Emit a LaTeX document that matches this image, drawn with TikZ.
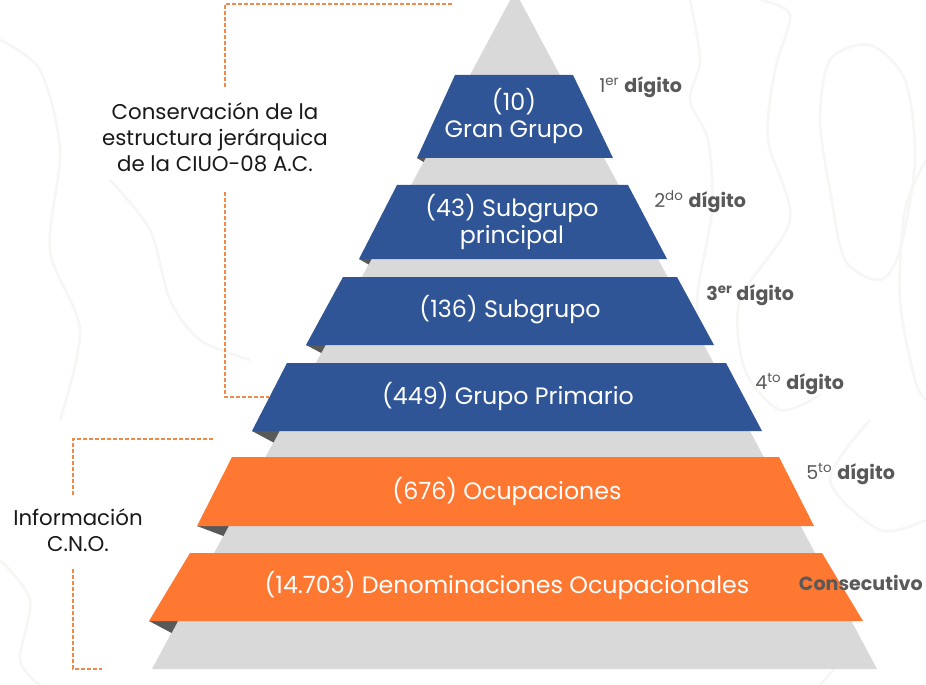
\documentclass[tikz,border=0pt]{standalone}
\usepackage{fontspec}
\setmainfont{Poppins}
\usepackage{tikz}

\definecolor{azul}{HTML}{2F5597}
\definecolor{naranja}{HTML}{FF7832}
\definecolor{gris}{HTML}{D9D9D9}
\definecolor{pliegue}{HTML}{595959}
\definecolor{guia}{HTML}{F08A4B}
\definecolor{rotulo}{HTML}{595959}
\definecolor{fondo}{HTML}{F6F6F4}

\begin{document}
\begin{tikzpicture}[x=0.75pt,y=0.75pt,yscale=-1,xscale=1,
  bandaAzul/.style={fill=azul},
  bandaNaranja/.style={fill=naranja},
  doblez/.style={fill=pliegue},
  curvaFondo/.style={draw=fondo,line width=2pt},
  textoBanda/.style={text=white,align=center,inner sep=0.75pt,font=\fontsize{17.8}{20}\selectfont},
  textoLado/.style={text=black!90,align=center,inner sep=0.75pt,font=\fontsize{16}{19.5}\selectfont},
  digito/.style={anchor=west,text=rotulo,inner sep=0.75pt,font=\fontsize{14.3}{16}\selectfont},
  guiaLinea/.style={draw=guia,line width=1pt,dash pattern=on 3pt off 1.5pt}]
  \useasboundingbox (0,0) rectangle (926,685);

  %Background contours
  \draw [curvaFondo] plot [smooth] coordinates {(690,0) (700,60) (690,100) (708,140) (712,210) (697,300) (705,370) (690,440)};
  \draw [curvaFondo] plot [smooth] coordinates {(760,0) (790,15) (775,70) (768,140) (790,220) (740,300) (745,370) (780,410) (820,395)};
  \draw [curvaFondo] plot [smooth cycle] coordinates {(830,60) (870,45) (905,80) (915,160) (900,250) (880,280) (845,260) (830,190) (820,120)};
  \draw [curvaFondo] plot [smooth] coordinates {(926,160) (905,210) (900,300) (915,380) (926,400)};
  \draw [curvaFondo] plot [smooth] coordinates {(0,40) (40,70) (60,150) (50,250) (80,330) (60,420)};
  \draw [curvaFondo] plot [smooth] coordinates {(110,180) (150,230) (170,300) (200,340) (250,360)};
  \draw [curvaFondo] plot [smooth] coordinates {(0,560) (30,600) (20,660) (40,685)};
  \draw [curvaFondo] plot [smooth] coordinates {(870,420) (830,480) (880,530) (926,520)};
  \draw [curvaFondo] plot [smooth] coordinates {(860,640) (820,685)};

  %Shape: Pyramid
  \fill [gris] (515,-9) -- (877,669) -- (152,669) -- cycle ;

  %Shape: Folds
  \fill [doblez] (417,158) -- (425.7,158) -- (423.5,162) -- cycle ;
  \fill [doblez] (359,259) -- (371.6,259) -- (368.6,264.5) -- cycle ;
  \fill [doblez] (306,345) -- (325.6,345) -- (321.3,353) -- cycle ;
  \fill [doblez] (252,431) -- (279.6,431) -- (273.5,442.5) -- cycle ;
  \fill [doblez] (197,526) -- (228.8,526) -- (223.4,536) -- cycle ;
  \fill [doblez] (149,621) -- (178,621) -- (171.6,633) -- cycle ;

  %Shape: Bands
  \fill [bandaAzul] (455,75) -- (573,75) -- (613,158) -- (417,158) -- cycle ;
  \fill [bandaAzul] (397,185) -- (628,185) -- (667,259) -- (359,259) -- cycle ;
  \fill [bandaAzul] (343,277) -- (677,277) -- (714,345) -- (306,345) -- cycle ;
  \fill [bandaAzul] (287,363) -- (726,363) -- (762,431) -- (252,431) -- cycle ;
  \fill [bandaNaranja] (232,457) -- (779,457) -- (814,526) -- (197,526) -- cycle ;
  \fill [bandaNaranja] (190,553) -- (822,553) -- (863,621) -- (149,621) -- cycle ;

  % Text Node
  \draw (514,116) node (gran) [textoBanda] {(10)\\Gran Grupo};
  % Text Node
  \draw (512,222) node (subprin) [textoBanda] {(43) Subgrupo\\principal};
  % Text Node
  \draw (510,310) node (sub) [textoBanda] {(136) Subgrupo};
  % Text Node
  \draw (508,397) node (primario) [textoBanda] {(449) Grupo Primario};
  % Text Node
  \draw (507,492) node (ocupa) [textoBanda] {(676) Ocupaciones};
  % Text Node
  \draw (507,585) node (denom) [textoBanda] {(14.703) Denominaciones Ocupacionales};

  % Text Node
  \draw (598,87) node (dig1) [digito] {1\textsuperscript{er} \textbf{dígito}};
  % Text Node
  \draw (653,202) node (dig2) [digito] {2\textsuperscript{do} \textbf{dígito}};
  % Text Node
  \draw (705,295) node (dig3) [digito] {\textbf{3\textsuperscript{er} dígito}};
  % Text Node
  \draw (754,384) node (dig4) [digito] {4\textsuperscript{to} \textbf{dígito}};
  % Text Node
  \draw (805,474) node (dig5) [digito] {5\textsuperscript{to} \textbf{dígito}};
  % Text Node
  \draw (924,583) node (consec) [digito,anchor=east] {\textbf{Consecutivo}};

  % Text Node
  \draw (215,137) node (conserva) [textoLado] {Conservación de la\\estructura jerárquica\\de la CIUO-08 A.C.};
  % Text Node
  \draw (78,530) node (cno) [textoLado] {Información\\C.N.O.};

  %Straight Lines: bracket top
  \coordinate (a1) at (452,4);
  \coordinate (a2) at (225,4);
  \coordinate (a3) at (225,88);
  \coordinate (a4) at (225,192);
  \coordinate (a5) at (225,397);
  \coordinate (a6) at (269,397);
  \draw [guiaLinea] (a1) -- (a2) -- (a3) ;
  \draw [guiaLinea] (a4) -- (a5) -- (a6) ;
  %Straight Lines: bracket bottom
  \coordinate (b1) at (213,439);
  \coordinate (b2) at (73,439);
  \coordinate (b3) at (73,495);
  \coordinate (b4) at (73,569);
  \coordinate (b5) at (73,669);
  \coordinate (b6) at (102,669);
  \draw [guiaLinea] (b1) -- (b2) -- (b3) ;
  \draw [guiaLinea] (b4) -- (b5) -- (b6) ;

\end{tikzpicture}
\end{document}
